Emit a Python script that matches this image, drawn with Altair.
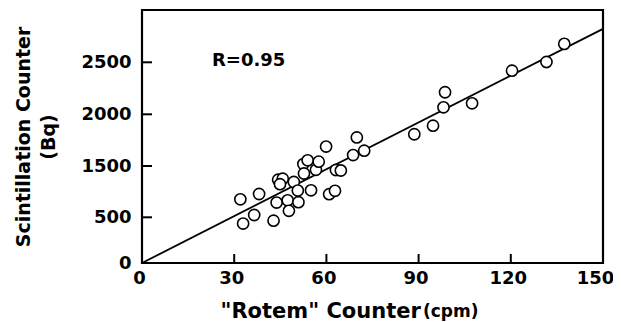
import altair as alt
import pandas as pd

# "Rotem" counter (cpm) and scintillation counter (Bq) readings
rotem = [32.0, 32.9, 36.5, 38.1, 42.8, 43.8, 44.3, 45.8, 44.9, 47.4, 47.8, 49.4,
         50.9, 50.7, 52.5, 52.7, 53.9, 55.0, 56.6, 57.5, 59.9, 60.9, 62.8, 63.1,
         64.7, 68.7, 69.9, 72.3, 88.6, 94.7, 98.1, 98.6, 107.4, 120.4, 131.6, 137.4]
scint = [851, 432, 545, 954, 463, 788, 1233, 1252, 1145, 831, 627, 1188,
         794, 1022, 1519, 1354, 1555, 1026, 1426, 1542, 1688, 950, 1017, 1422,
         1412, 1606, 1776, 1648, 1807, 1890, 2067, 2212, 2106, 2419, 2503, 2676]

fit_x = [0, 150]
fit_y = [0, 2820]

x_ticks = [0, 30, 60, 90, 120, 150]
y_ticks = [0, 500, 1500, 2000, 2500]

W, H = 461, 253
FONT = "DejaVu Sans"

xscale = alt.Scale(domain=[0, 150], nice=False, zero=False)
yscale = alt.Scale(domain=[0, 500, 1500, 2000, 2500, 3000],
                   range=[253, 207.3, 156, 104.3, 52.3, 0], nice=False, zero=False)

pts = pd.DataFrame({"x": rotem, "y": scint})
fit = pd.DataFrame({"x": fit_x, "y": fit_y})
xt = pd.DataFrame({"x": x_ticks[1:-1]})
yt = pd.DataFrame({"y": y_ticks[1:]})

xaxis = alt.Axis(values=x_ticks, format="d", title='"Rotem" Counter', tickSize=0,
                 domain=False, grid=False, labelPadding=6, labelFontSize=18, labelFont=FONT,
                 labelFontWeight="bold", labelColor="black", labelFlush=False,
                 labelOverlap=False,
                 labelOffset=alt.expr("datum.value == 150 ? -8 : -3"),
                 titleFont=FONT, titleFontSize=21, titleFontWeight="bold", titleColor="black",
                 titleAnchor="start", titleAlign="left", titleX=78, titleY=54,
                 titleBaseline="alphabetic")
yaxis = alt.Axis(values=y_ticks, format="d", title=["Scintillation Counter", "(Bq)"],
                 tickSize=0, domain=False, grid=False, labelPadding=11, labelFontSize=18,
                 labelFont=FONT, labelFontWeight="bold", labelColor="black",
                 labelBaseline="middle", labelOverlap=False,
                 titleFont=FONT, titleFontSize=19, titleFontWeight="bold", titleColor="black",
                 titlePadding=22, titleLineHeight=25)

line = alt.Chart(fit).mark_line(color="black", strokeWidth=1.8).encode(
    x=alt.X("x:Q", scale=xscale, axis=xaxis),
    y=alt.Y("y:Q", scale=yscale, axis=yaxis),
)

points = alt.Chart(pts).mark_point(shape="circle", size=125, filled=False, fill="white",
                                   fillOpacity=1, stroke="black", strokeWidth=1.6,
                                   opacity=1).encode(
    x=alt.X("x:Q", scale=xscale),
    y=alt.Y("y:Q", scale=yscale),
)

xtick_rules = alt.Chart(xt).mark_rule(color="black", strokeWidth=2).encode(
    x=alt.X("x:Q", scale=xscale),
    y=alt.value(H),
    y2=alt.value(H - 9),
)
ytick_rules = alt.Chart(yt).mark_rule(color="black", strokeWidth=2).encode(
    y=alt.Y("y:Q", scale=yscale),
    x=alt.value(0),
    x2=alt.value(10),
)

r_text = alt.Chart(pd.DataFrame({"t": ["R=0.95"]})).mark_text(
    font=FONT, fontSize=18, fontWeight="bold", align="left", baseline="alphabetic",
    color="black").encode(text="t:N", x=alt.value(70), y=alt.value(55.5))

cpm_text = alt.Chart(pd.DataFrame({"t": ["(cpm)"]})).mark_text(
    font=FONT, fontSize=17, fontWeight="bold", align="left", baseline="alphabetic",
    color="black").encode(text="t:N", x=alt.value(281), y=alt.value(H + 54))

chart = alt.layer(line, points, xtick_rules, ytick_rules, r_text, cpm_text).properties(
    width=W, height=H,
    autosize=alt.AutoSizeParams(type="none"),
    padding={"left": 134, "top": 2, "right": 10, "bottom": 60},
    background="white",
).configure_view(stroke="black", strokeWidth=2.2)

chart.save("out.html", embed_options={"renderer": "svg", "actions": False})
